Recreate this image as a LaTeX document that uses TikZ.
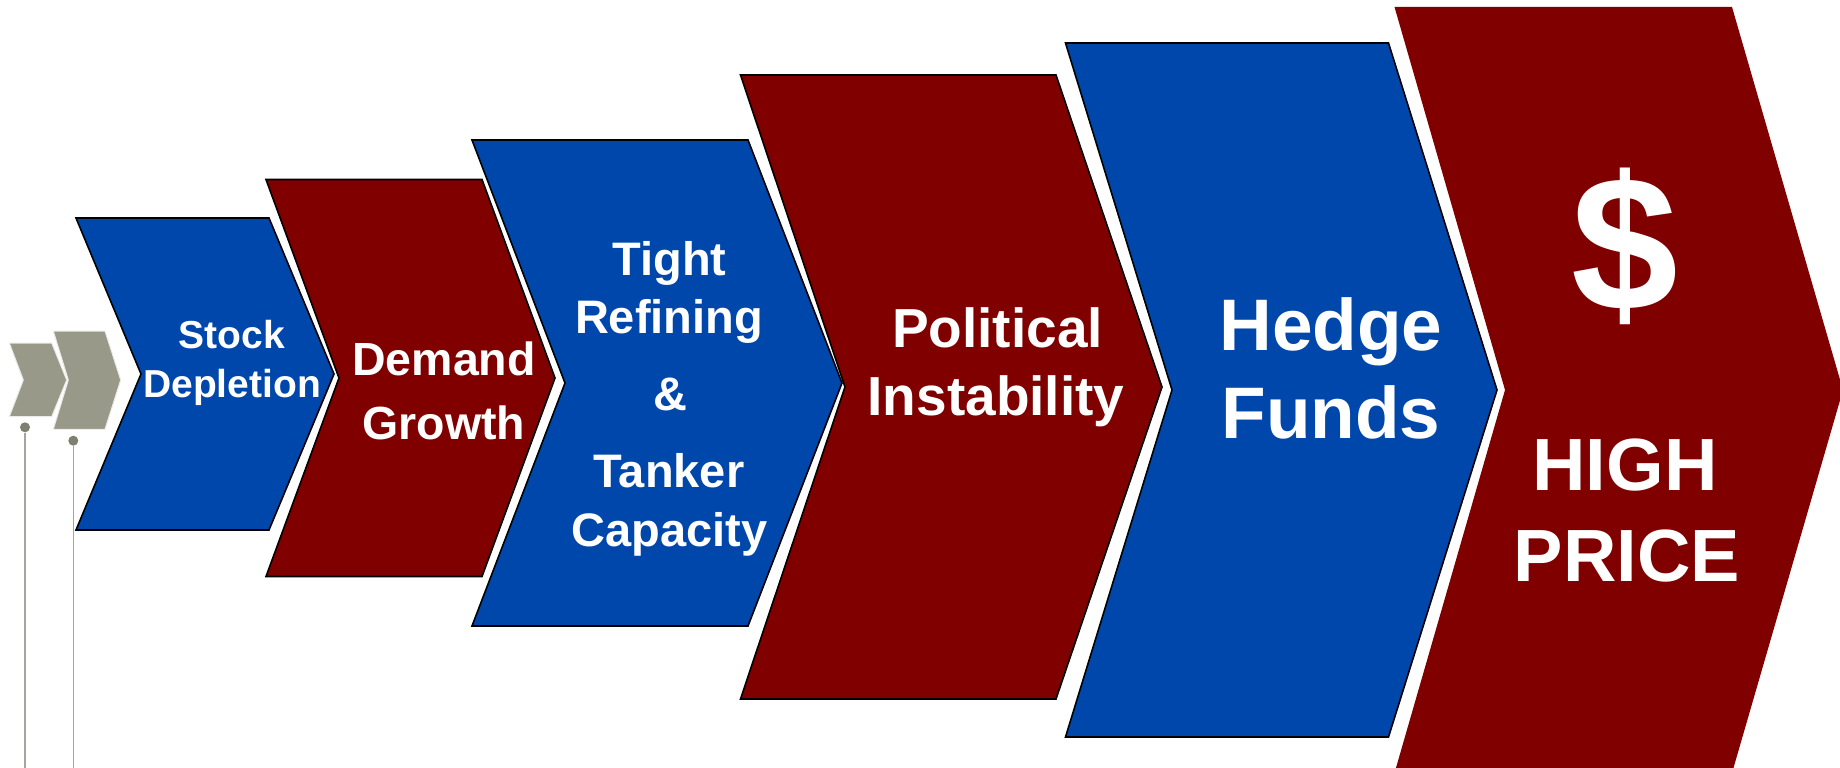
\documentclass[tikz,border=0pt]{standalone}
\usepackage{fontspec}
\setmainfont{Liberation Sans}

\definecolor{chevblue}{RGB}{0,71,171}
\definecolor{chevred}{RGB}{128,0,0}
\definecolor{chevgrey}{RGB}{153,153,138}
\definecolor{dotgrey}{RGB}{128,128,112}
\definecolor{linegrey}{RGB}{165,165,155}

\tikzset{
  bluechev/.style={fill=chevblue, draw=black, line width=1.6pt},
  redchev/.style={fill=chevred, draw=black, line width=1.6pt},
  greychev/.style={fill=chevgrey, draw=white!80!chevgrey, line width=1pt},
  chevtext/.style={text=white, font=\bfseries\fontsize{#1}{#1}\selectfont, anchor=base, inner sep=0pt},
  pindot/.style={circle, fill=dotgrey, inner sep=0pt, minimum size=10pt},
}

\begin{document}
\begin{tikzpicture}[x=1pt,y=-1pt]
  \clip (0,0) rectangle (1840,768);
  \fill[white] (0,0) rectangle (1840,768);

  % Draw the two small grey chevrons and their pins
  \draw[greychev] (9.3,343) -- (51.7,343) -- (66.7,380) -- (51.7,416.7) -- (9.3,416.7) -- (23.3,380) -- cycle;
  \draw[greychev] (53.3,331) -- (105,331) -- (120.7,380) -- (105,429.3) -- (53.3,429.3) -- (68.3,380) -- cycle;
  \node[pindot] (pin1) at (25,427.3) {};
  \node[pindot] (pin2) at (73.3,440.7) {};
  \coordinate (foot1) at (25,768);
  \coordinate (foot2) at (73.3,768);
  \draw[linegrey, line width=1.2pt] (pin1) -- (foot1);
  \draw[linegrey, line width=1.2pt] (pin2) -- (foot2);

  % Draw the chevrons, growing to the right
  \draw[bluechev] (76,218) -- (269,218) -- (334,374) -- (269,530) -- (76,530) -- (141,374) -- cycle;
  \draw[redchev] (266,179.5) -- (482,179.5) -- (555,378) -- (482,576.5) -- (266,576.5) -- (339,378) -- cycle;
  \draw[bluechev] (472,140) -- (748,140) -- (842,383) -- (748,626) -- (472,626) -- (565,383) -- cycle;
  \draw[redchev] (740.5,75) -- (1056,75) -- (1162,387) -- (1056,699) -- (740.5,699) -- (845,387) -- cycle;
  \draw[bluechev] (1065.5,43) -- (1388.5,43) -- (1497,390) -- (1388.5,737) -- (1065.5,737) -- (1172,390) -- cycle;
  \fill[chevred] (1394.5,7) -- (1732,7) -- (1843,390) -- (1732,773) -- (1394.5,773) -- (1505,390) -- cycle;

  % Labels
  \node[chevtext=39] (stock) at (232,348) {Stock};
  \node[chevtext=39] (depletion) at (232,397) {Depletion};

  \node[chevtext=46.5] (demand) at (444,375) {Demand};
  \node[chevtext=46.5] (growth) at (444,439) {Growth};

  \node[chevtext=47] (tight) at (669.5,275) {Tight};
  \node[chevtext=47] (refining) at (669,333.5) {Refining};
  \node[chevtext=47] (amp) at (670,410.7) {\&};
  \node[chevtext=47] (tanker) at (669,487.5) {Tanker};
  \node[chevtext=47] (capacity) at (669.5,546) {Capacity};

  \node[chevtext=55] (political) at (997.5,347) {Political};
  \node[chevtext=55] (instability) at (996,415) {Instability};

  \node[chevtext=73] (hedge) at (1331,350.6) {Hedge};
  \node[chevtext=73] (funds) at (1331,438) {Funds};

  \node[chevtext=192, anchor=center] (dollar) at (1625,246) {\$};
  \node[chevtext=74] (high) at (1625,490.7) {HIGH};
  \node[chevtext=74] (price) at (1627,581) {PRICE};

\end{tikzpicture}
\end{document}
